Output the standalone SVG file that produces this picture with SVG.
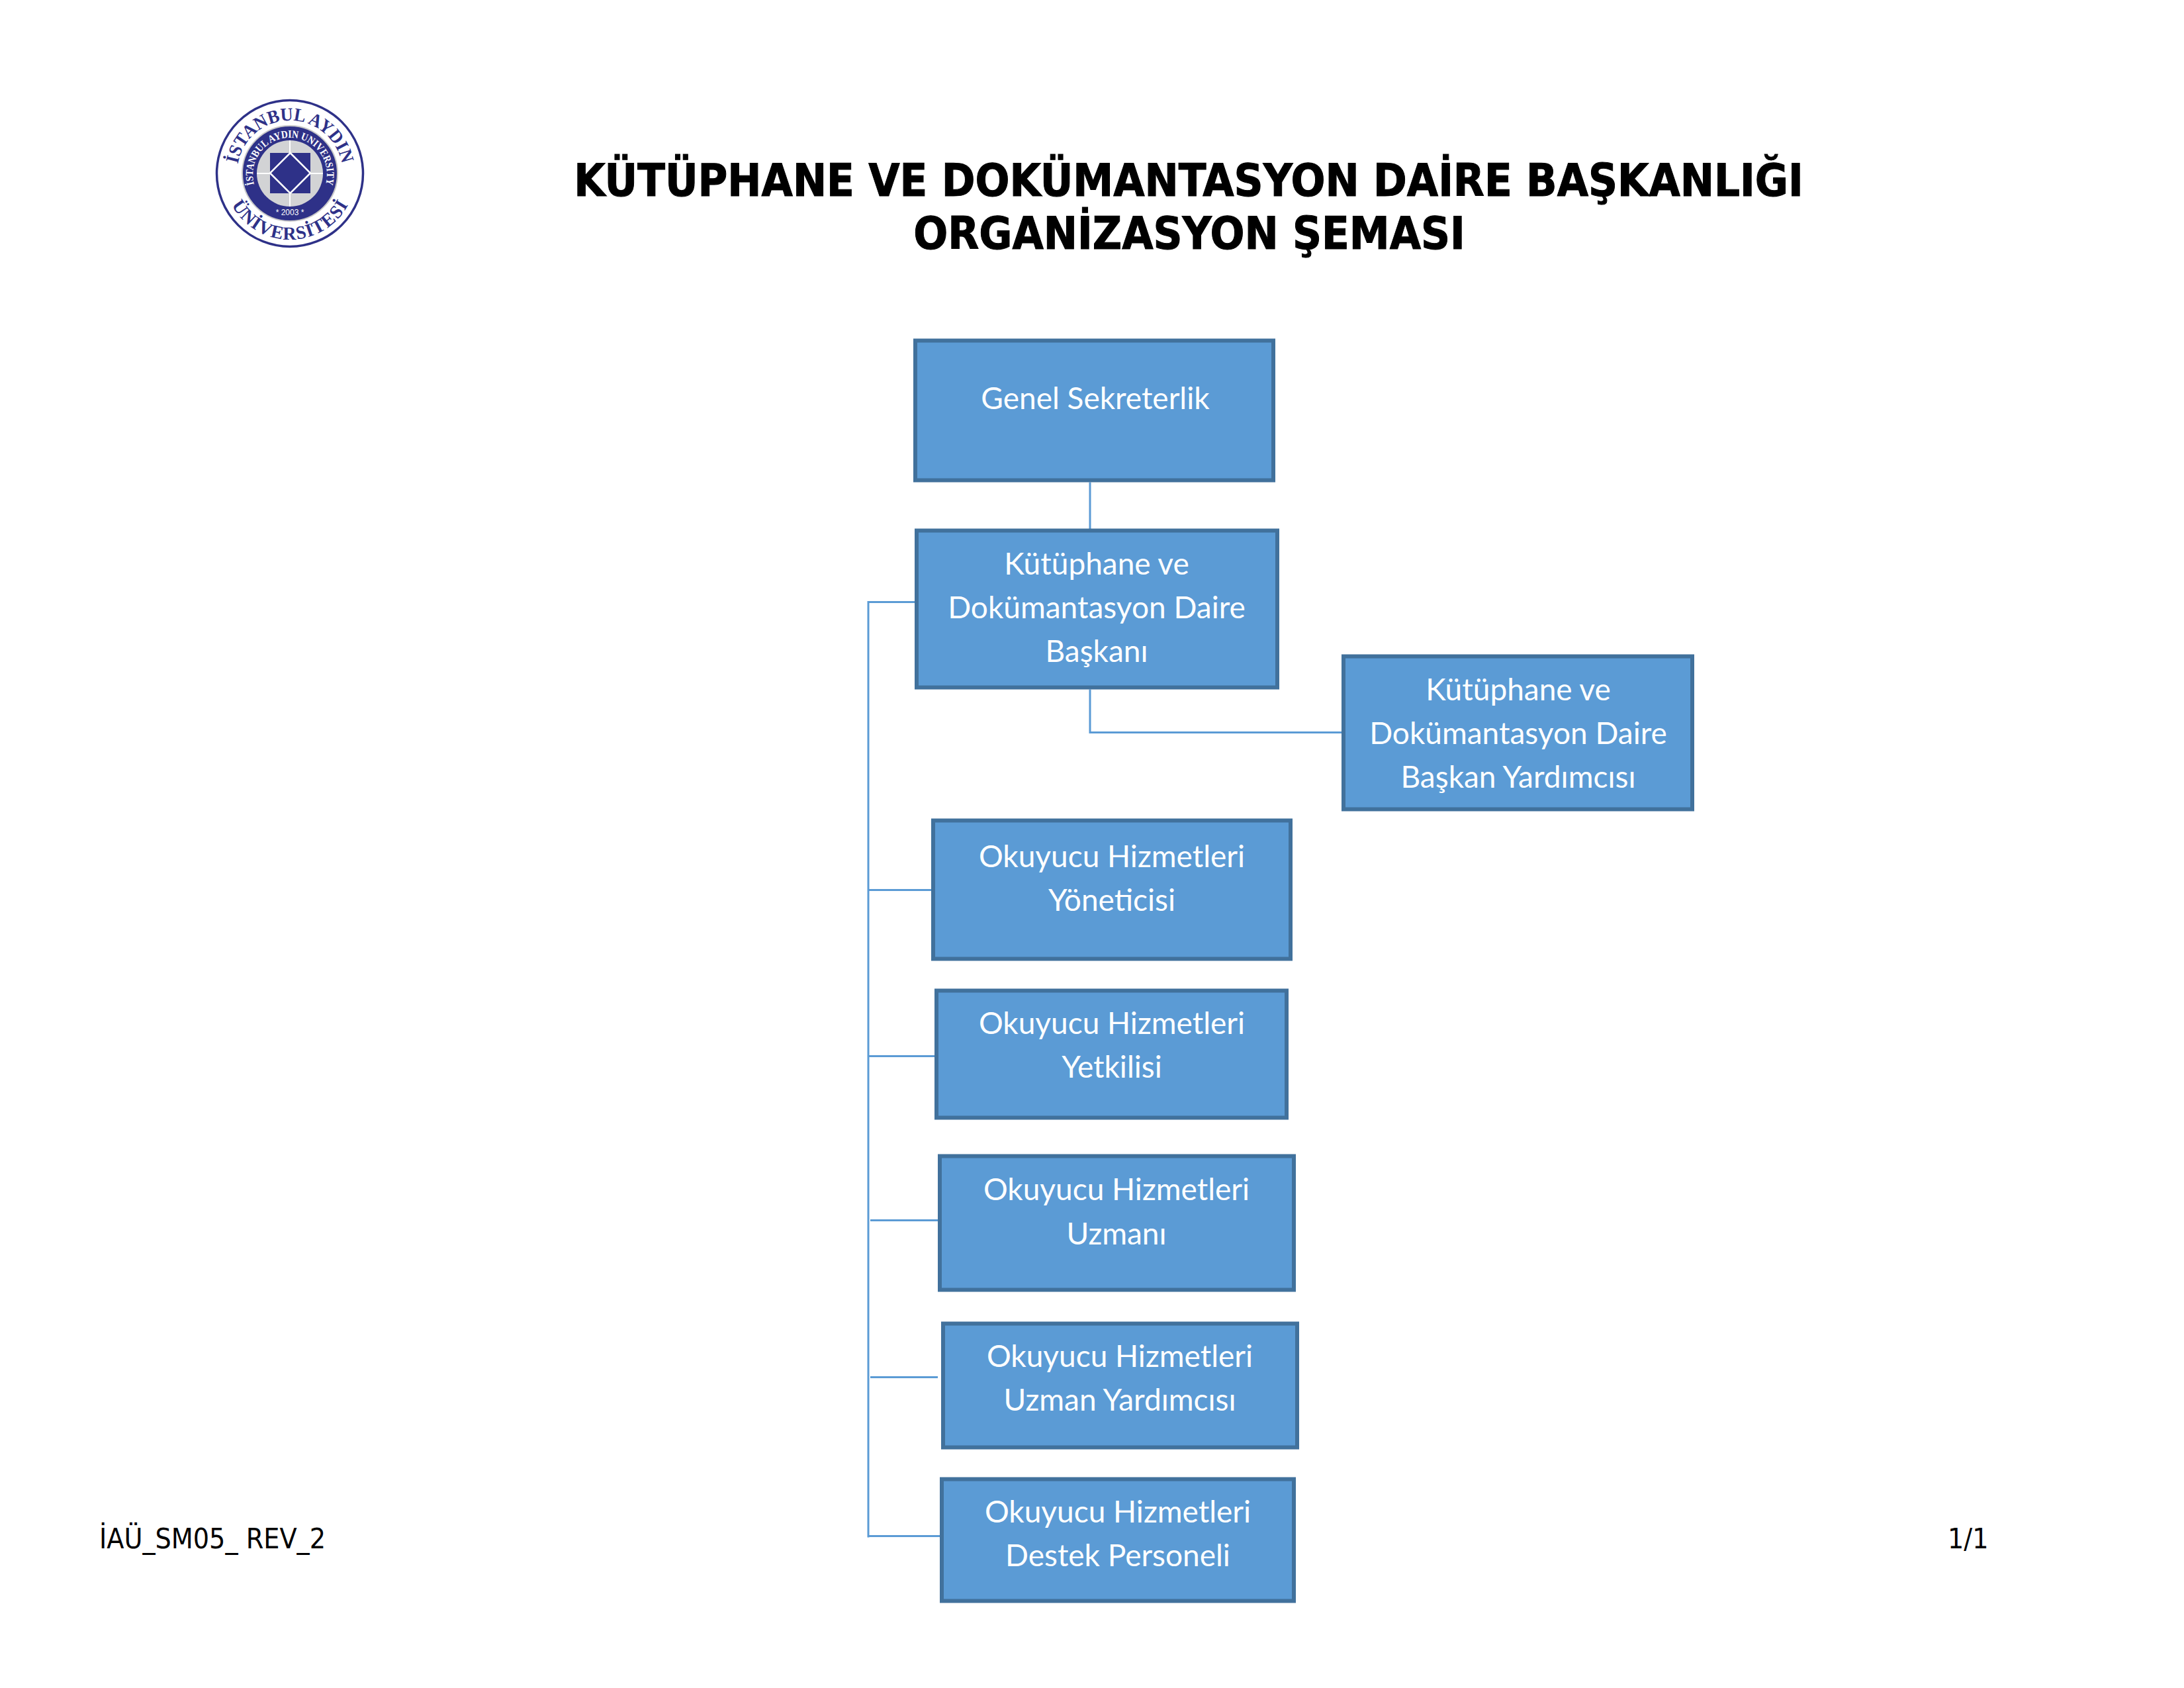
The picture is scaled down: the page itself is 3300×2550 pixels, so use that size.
<svg xmlns="http://www.w3.org/2000/svg" width="3300" height="2550" viewBox="0 0 3300 2550">
<style>
.b{fill:#5B9BD5;stroke:#41719C;stroke-width:6}
.t{font-family:"Lato","Liberation Sans",sans-serif;font-size:46px;fill:#fff;text-anchor:middle}
.h{font-family:"DejaVu Sans","Liberation Sans",sans-serif;font-weight:700;font-stretch:condensed;font-size:68px;fill:#000;stroke:#000;stroke-width:1;text-anchor:middle}
.f{font-family:"DejaVu Sans","Liberation Sans",sans-serif;font-stretch:condensed;font-size:42.500px;fill:#000}
.c{fill:none;stroke:#5B9BD5;stroke-width:3}
.lo{font-family:"Liberation Serif",serif;font-weight:700;font-size:28px;fill:#2E3188}
.li{font-family:"Liberation Serif",serif;font-weight:700;font-size:16px;fill:#fff}
.r{stroke:#fff;stroke-width:2;fill:none}
</style>
<defs>
<path id="a1" d="M 358 262 A 80 80 0 0 1 518 262"/>
<path id="a2" d="M 338 262 A 100 100 0 0 0 538 262"/>
<path id="a3" d="M 385 282 A 56 56 0 1 1 491 282"/>
</defs>
<rect width="3300" height="2550" fill="#fff"/>
<g id="logo">
<circle cx="438" cy="262" r="110.500" fill="#fff" stroke="#2E3188" stroke-width="3.500"/>
<circle cx="438" cy="262" r="72" fill="#2E3188" stroke="#C8C8C8" stroke-width="2"/>
<circle cx="438" cy="262" r="50" fill="#D2D3D5"/>
<path class="r" d="M438 212V231M438 292V312M388 262H408M469 262H488"/>
<rect x="408" y="231" width="61" height="61" fill="#2E3188"/>
<path d="M438.500 231L469 261.500L438.500 292L408 261.500Z" fill="#2E3188" stroke="#fff" stroke-width="2.500"/>
<text class="lo"><textPath href="#a1" startOffset="50%" text-anchor="middle" textLength="222" lengthAdjust="spacingAndGlyphs">İSTANBUL AYDIN</textPath></text>
<text class="lo"><textPath href="#a2" startOffset="50%" text-anchor="middle" textLength="215" lengthAdjust="spacing">ÜNİVERSİTESİ</textPath></text>
<text class="li"><textPath href="#a3" startOffset="50%" text-anchor="middle" textLength="205" lengthAdjust="spacingAndGlyphs">İSTANBUL AYDIN UNIVERSITY</textPath></text>
<text x="438" y="325" style="font-family:'Liberation Sans',sans-serif;font-size:12px;fill:#fff;text-anchor:middle">* 2003 *</text>
</g>
<g id="title">
<text class="h" x="1796" y="296">KÜTÜPHANE VE DOKÜMANTASYON DAİRE BAŞKANLIĞI</text>
<text class="h" x="1797" y="376">ORGANİZASYON ŞEMASI</text>
</g>
<g id="chart" transform="translate(0,1.500)">
<g id="connectors">
<path class="c" d="M1647 727V800"/>
<path class="c" d="M1647 1040V1105H2030"/>
<path class="c" d="M1385 908H1312V2321"/>
<path class="c" d="M1312 1343H1410"/>
<path class="c" d="M1312 1594H1415"/>
<path class="c" d="M1315 1842H1420"/>
<path class="c" d="M1315 2079H1417"/>
<path class="c" d="M1312 2319H1423"/>
</g>
<g id="n1"><rect class="b" x="1383" y="513" width="541" height="211"/><text class="t" x="1655" y="616">Genel Sekreterlik</text></g>
<g id="n2"><rect class="b" x="1385" y="800" width="545" height="237"/><text class="t" x="1657" y="866">Kütüphane ve</text><text class="t" x="1657" y="932">Dokümantasyon Daire</text><text class="t" x="1657" y="998">Başkanı</text></g>
<g id="n3"><rect class="b" x="2030" y="990" width="527" height="231"/><text class="t" x="2294" y="1056">Kütüphane ve</text><text class="t" x="2294" y="1122">Dokümantasyon Daire</text><text class="t" x="2294" y="1188">Başkan Yardımcısı</text></g>
<g id="n4"><rect class="b" x="1410" y="1238" width="540" height="209"/><text class="t" x="1680" y="1308">Okuyucu Hizmetleri</text><text class="t" x="1680" y="1374">Yöneticisi</text></g>
<g id="n5"><rect class="b" x="1415" y="1495" width="529" height="192"/><text class="t" x="1680" y="1560">Okuyucu Hizmetleri</text><text class="t" x="1680" y="1626">Yetkilisi</text></g>
<g id="n6"><rect class="b" x="1420" y="1745" width="535" height="202"/><text class="t" x="1687" y="1811">Okuyucu Hizmetleri</text><text class="t" x="1687" y="1878">Uzmanı</text></g>
<g id="n7"><rect class="b" x="1425" y="1998" width="535" height="187"/><text class="t" x="1692" y="2063">Okuyucu Hizmetleri</text><text class="t" x="1692" y="2129">Uzman Yardımcısı</text></g>
<g id="n8"><rect class="b" x="1423" y="2233" width="532" height="184"/><text class="t" x="1689" y="2298">Okuyucu Hizmetleri</text><text class="t" x="1689" y="2364">Destek Personeli</text></g>
</g>
<g id="footer">
<text class="f" x="150" y="2339">İAÜ_SM05_ REV_2</text>
<text class="f" x="2943" y="2339">1/1</text>
</g>
</svg>
